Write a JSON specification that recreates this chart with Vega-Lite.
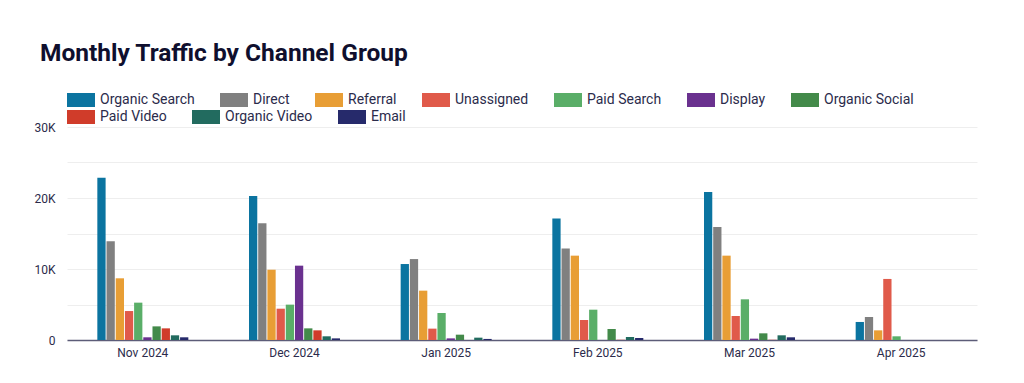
{
  "$schema": "https://vega.github.io/schema/vega-lite/v6.json",
  "width": 910,
  "height": 213,
  "autosize": {"type": "none"},
  "padding": {"left": 67, "top": 127, "right": 47, "bottom": 43},
  "background": "#ffffff",
  "title": {
    "text": "Monthly Traffic by Channel Group",
    "anchor": "start",
    "frame": "group",
    "dx": -27,
    "fontSize": 24.5,
    "font": "Roboto",
    "fontWeight": "bold",
    "color": "#0f0f2e",
    "offset": 20
  },
  "config": {
    "view": {"stroke": null},
    "font": "Roboto",
    "legend": {
      "title": null,
      "orient": "none",
      "direction": "horizontal",
      "symbolType": "M-1,-0.5H1V0.5H-1Z",
      "symbolSize": 784,
      "symbolStrokeWidth": 0,
      "symbolOpacity": 1,
      "labelFontSize": 14,
      "labelColor": "#2b2b4b",
      "labelOffset": 5,
      "columnPadding": 25,
      "labelLimit": 300
    }
  },
  "data": {
    "values": [
      {"month": "Nov 2024", "channel": "Organic Search", "sessions": 22860},
      {"month": "Nov 2024", "channel": "Direct", "sessions": 13900},
      {"month": "Nov 2024", "channel": "Referral", "sessions": 8690},
      {"month": "Nov 2024", "channel": "Unassigned", "sessions": 4080},
      {"month": "Nov 2024", "channel": "Paid Search", "sessions": 5260},
      {"month": "Nov 2024", "channel": "Display", "sessions": 380},
      {"month": "Nov 2024", "channel": "Organic Social", "sessions": 1920},
      {"month": "Nov 2024", "channel": "Paid Video", "sessions": 1640},
      {"month": "Nov 2024", "channel": "Organic Video", "sessions": 660},
      {"month": "Nov 2024", "channel": "Email", "sessions": 380},
      {"month": "Dec 2024", "channel": "Organic Search", "sessions": 20280},
      {"month": "Dec 2024", "channel": "Direct", "sessions": 16430},
      {"month": "Dec 2024", "channel": "Referral", "sessions": 9900},
      {"month": "Dec 2024", "channel": "Unassigned", "sessions": 4410},
      {"month": "Dec 2024", "channel": "Paid Search", "sessions": 4980},
      {"month": "Dec 2024", "channel": "Display", "sessions": 10470},
      {"month": "Dec 2024", "channel": "Organic Social", "sessions": 1640},
      {"month": "Dec 2024", "channel": "Paid Video", "sessions": 1360},
      {"month": "Dec 2024", "channel": "Organic Video", "sessions": 520},
      {"month": "Dec 2024", "channel": "Email", "sessions": 230},
      {"month": "Jan 2025", "channel": "Organic Search", "sessions": 10700},
      {"month": "Jan 2025", "channel": "Direct", "sessions": 11400},
      {"month": "Jan 2025", "channel": "Referral", "sessions": 6950},
      {"month": "Jan 2025", "channel": "Unassigned", "sessions": 1600},
      {"month": "Jan 2025", "channel": "Paid Search", "sessions": 3800},
      {"month": "Jan 2025", "channel": "Display", "sessions": 230},
      {"month": "Jan 2025", "channel": "Organic Social", "sessions": 750},
      {"month": "Jan 2025", "channel": "Paid Video", "sessions": 0},
      {"month": "Jan 2025", "channel": "Organic Video", "sessions": 330},
      {"month": "Jan 2025", "channel": "Email", "sessions": 150},
      {"month": "Feb 2025", "channel": "Organic Search", "sessions": 17100},
      {"month": "Feb 2025", "channel": "Direct", "sessions": 12900},
      {"month": "Feb 2025", "channel": "Referral", "sessions": 11880},
      {"month": "Feb 2025", "channel": "Unassigned", "sessions": 2820},
      {"month": "Feb 2025", "channel": "Paid Search", "sessions": 4270},
      {"month": "Feb 2025", "channel": "Display", "sessions": 0},
      {"month": "Feb 2025", "channel": "Organic Social", "sessions": 1550},
      {"month": "Feb 2025", "channel": "Paid Video", "sessions": 30},
      {"month": "Feb 2025", "channel": "Organic Video", "sessions": 420},
      {"month": "Feb 2025", "channel": "Email", "sessions": 280},
      {"month": "Mar 2025", "channel": "Organic Search", "sessions": 20850},
      {"month": "Mar 2025", "channel": "Direct", "sessions": 15900},
      {"month": "Mar 2025", "channel": "Referral", "sessions": 11880},
      {"month": "Mar 2025", "channel": "Unassigned", "sessions": 3380},
      {"month": "Mar 2025", "channel": "Paid Search", "sessions": 5730},
      {"month": "Mar 2025", "channel": "Display", "sessions": 190},
      {"month": "Mar 2025", "channel": "Organic Social", "sessions": 940},
      {"month": "Mar 2025", "channel": "Paid Video", "sessions": 30},
      {"month": "Mar 2025", "channel": "Organic Video", "sessions": 660},
      {"month": "Mar 2025", "channel": "Email", "sessions": 380},
      {"month": "Apr 2025", "channel": "Organic Search", "sessions": 2540},
      {"month": "Apr 2025", "channel": "Direct", "sessions": 3240},
      {"month": "Apr 2025", "channel": "Referral", "sessions": 1360},
      {"month": "Apr 2025", "channel": "Unassigned", "sessions": 8600},
      {"month": "Apr 2025", "channel": "Paid Search", "sessions": 520},
      {"month": "Apr 2025", "channel": "Display", "sessions": 0},
      {"month": "Apr 2025", "channel": "Organic Social", "sessions": 0},
      {"month": "Apr 2025", "channel": "Paid Video", "sessions": 0},
      {"month": "Apr 2025", "channel": "Organic Video", "sessions": 0},
      {"month": "Apr 2025", "channel": "Email", "sessions": 0}
    ]
  },
  "encoding": {
    "x": {
      "field": "month",
      "type": "nominal",
      "sort": ["Nov 2024", "Dec 2024", "Jan 2025", "Feb 2025", "Mar 2025", "Apr 2025"],
      "scale": {"paddingInner": 0.4, "paddingOuter": 0.2},
      "axis": {
        "title": null,
        "labelAngle": 0,
        "ticks": false,
        "domain": true,
        "domainColor": "#5c5c78",
        "domainWidth": 1.5,
        "labelColor": "#2b2b4b",
        "labelFontSize": 12,
        "labelPadding": 7,
        "grid": false
      }
    },
    "xOffset": {
      "field": "channel",
      "type": "nominal",
      "scale": {
        "domain": ["Organic Search", "Direct", "Referral", "Unassigned", "Paid Search", "Display", "Organic Social", "Paid Video", "Organic Video", "Email"],
        "paddingInner": 0.1,
        "paddingOuter": 0
      }
    },
    "y": {
      "field": "sessions",
      "type": "quantitative",
      "scale": {"domain": [0, 30000], "nice": false},
      "axis": {
        "title": null,
        "values": [0, 5000, 10000, 15000, 20000, 25000, 30000],
        "labelExpr": "datum.value == 0 ? '0' : (datum.value % 10000 == 0 ? (datum.value / 1000) + 'K' : '')",
        "ticks": false,
        "domain": false,
        "gridColor": "#eeeeee",
        "gridWidth": 1,
        "labelColor": "#2b2b4b",
        "labelFontSize": 12,
        "labelPadding": 12
      }
    }
  },
  "layer": [
    {
      "transform": [
        {"filter": {"field": "channel", "oneOf": ["Organic Search", "Direct", "Referral", "Unassigned", "Paid Search", "Display", "Organic Social"]}}
      ],
      "mark": {"type": "bar"},
      "encoding": {
        "color": {
          "field": "channel",
          "type": "nominal",
          "scale": {
            "domain": ["Organic Search", "Direct", "Referral", "Unassigned", "Paid Search", "Display", "Organic Social"],
            "range": ["#0b74a0", "#808080", "#e89e35", "#e05a4a", "#5aae68", "#6a318f", "#438a4a"]
          },
          "legend": {"orient": "none", "legendX": 0, "legendY": -41}
        }
      }
    },
    {
      "transform": [
        {"filter": {"field": "channel", "oneOf": ["Paid Video", "Organic Video", "Email"]}}
      ],
      "mark": {"type": "bar"},
      "encoding": {
        "color": {
          "field": "channel",
          "type": "nominal",
          "scale": {
            "domain": ["Paid Video", "Organic Video", "Email"],
            "range": ["#d03c2a", "#226b5f", "#262a6b"]
          },
          "legend": {"orient": "none", "legendX": 0, "legendY": -24}
        }
      }
    }
  ],
  "resolve": {"scale": {"color": "independent"}, "legend": {"color": "independent"}}
}
